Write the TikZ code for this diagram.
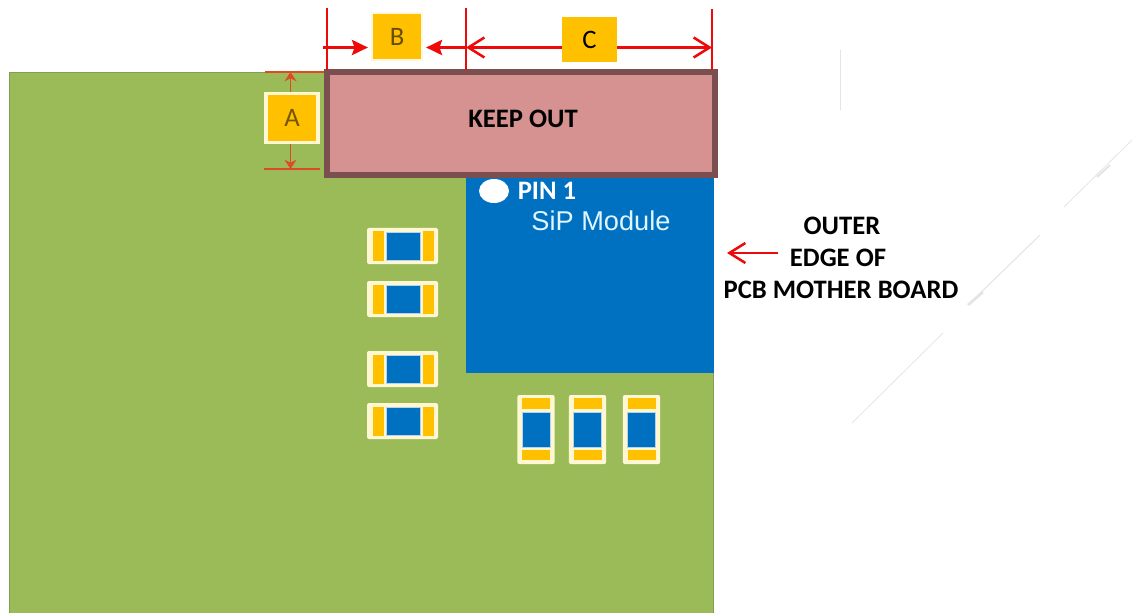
\documentclass[tikz,border=0pt]{standalone}
\usepackage{fontspec}
\setmainfont{Carlito}
\newfontfamily\modfont{Liberation Sans}
\usetikzlibrary{arrows.meta,shapes.geometric}
\definecolor{boardgreen}{HTML}{9BBB59}
\definecolor{boardedge}{HTML}{7F9F55}
\definecolor{keepfill}{HTML}{D69291}
\definecolor{keepedge}{HTML}{7B4E50}
\definecolor{modblue}{HTML}{0070C0}
\definecolor{padyellow}{HTML}{FFC000}
\definecolor{chipedge}{HTML}{FFF6D2}
\definecolor{dimred}{HTML}{EE0A0A}
\definecolor{dimorange}{HTML}{DD4A26}
\definecolor{ghost}{HTML}{E4E4E4}
\tikzset{
	block/.style={shape=rectangle,anchor=north west,inner sep=0pt},
	tag/.style={shape=rectangle,fill=padyellow,inner sep=0pt,font=\fontsize{20}{24}\selectfont},
	caption/.style={font=\fontsize{20}{24}\selectfont\bfseries,inner sep=0pt},
	dimline/.style={draw=dimred,line width=1.7pt},
	openarrow/.style={dimline,-{Straight Barb[length=12pt,width=15pt,line width=1.9pt]}},
	solidarrow/.style={dimline,-{Stealth[length=12pt,width=11.5pt,inset=2pt]}},
	smallarrow/.style={draw=dimorange,line width=1.4pt,-{Stealth[length=7pt,width=9pt]}},
	chipbody/.style={shape=rectangle,fill=chipedge,rounded corners=1.5pt,inner sep=0pt},
	pad/.style={shape=rectangle,fill=padyellow,inner sep=0pt},
	core/.style={shape=rectangle,fill=modblue,draw=white!70!modblue,line width=0.4pt,inner sep=0pt}
}
\begin{document}
\begin{tikzpicture}[x=0.75pt,y=-0.75pt]
	\useasboundingbox (0,0) rectangle (1132,613);

	\node[block,fill=boardgreen,draw=boardedge,line width=1pt,minimum width=528pt,minimum height=405.75pt] (board) at (9,72) {};
	\node[block,fill=modblue,minimum width=186pt,minimum height=146.25pt] (module) at (466,178) {};
	\node[block,fill=keepfill,draw=keepedge,line width=4.5pt,minimum width=291pt,minimum height=77.25pt] (keep) at (324,69.5) {};

	\node[caption] (keeplabel) at (523,118.5) {KEEP OUT};
	\node[shape=ellipse,fill=white,inner sep=0pt,minimum width=22.5pt,minimum height=18pt] (pin) at (494,191) {};
	\node[caption,text=white] (pinlabel) at (547,191) {PIN 1};
	\node[font=\modfont\fontsize{20.4}{24}\selectfont,text=cyan!12!white,inner sep=0pt] (sip) at (601,221) {SiP Module};

	% chips on the left
	\foreach \n/\y in {1/246,2/299,3/369,4/421} {
		\node[chipbody,minimum width=53.25pt,minimum height=27pt] (hchip\n) at (402.5,\y) {};
		\node[pad,minimum width=8.25pt,minimum height=21.75pt] (hpadl\n) at (378.5,\y) {};
		\node[pad,minimum width=8.25pt,minimum height=21.75pt] (hpadr\n) at (428.5,\y) {};
		\node[core,minimum width=25.5pt,minimum height=21pt] (hcore\n) at (403.5,\y) {};
	}
	% chips below the module
	\foreach \n/\x in {1/536,2/587.5,3/641.5} {
		\node[chipbody,minimum width=28pt,minimum height=51.75pt] (vchip\n) at (\x,429.5) {};
		\node[pad,minimum width=21pt,minimum height=8pt] (vpadt\n) at (\x,403.5) {};
		\node[pad,minimum width=21pt,minimum height=8pt] (vpadb\n) at (\x,455) {};
		\node[core,minimum width=21pt,minimum height=26.25pt] (vcore\n) at (\x,429.5) {};
	}

	\node[tag,draw=chipedge,line width=2.5pt,minimum width=39pt,minimum height=36.5pt,text=padyellow!45!black] (tagA) at (292,118) {A};
	\node[tag,draw=padyellow!12!white,line width=1.2pt,minimum width=37.5pt,minimum height=35pt,text=padyellow!40!black] (tagB) at (397,36.5) {B};
	\node[tag,minimum width=41pt,minimum height=34pt,text=black] (tagC) at (589.5,39.5) {C};

	\coordinate (atop) at (290.5,72);
	\coordinate (abot) at (290.5,169);
	\coordinate (tick1) at (327,47.5);
	\coordinate (tick2) at (466,47.5);
	\coordinate (tick3) at (712,47.5);
	\coordinate (btail) at (323,47.5);

	\draw[dimline] (327,8) -- (327,70);
	\draw[dimline] (466,8) -- (466,70);
	\draw[dimline] (712,9) -- (712,70);

	\draw[draw=dimorange,line width=1.3pt] (265,72) -- (324,72);
	\draw[draw=dimorange,line width=1.3pt] (264,169) -- (320,169);
	\draw[smallarrow] (tagA.north -| atop) -- (atop);
	\draw[smallarrow] (tagA.south -| abot) -- (abot);

	\draw[solidarrow,shorten >=2.5pt] (btail) -- (tagB.west |- btail);
	\draw[solidarrow,shorten >=2.5pt] (tick2) -- (tagB.east |- tick2);
	\draw[openarrow] (tagC.west |- tick2) -- (tick2);
	\draw[openarrow] (tagC.east |- tick3) -- (tick3);

	\node[caption] (outer) at (842,226) {OUTER};
	\node[caption] (edge) at (838,258) {EDGE OF};
	\node[caption] (pcb) at (841,290) {PCB MOTHER BOARD};
	\coordinate (edgetip) at (727,253);
	\coordinate (edgetail) at (778,253);
	\draw[openarrow] (edgetail) -- (edgetip);

	% faint marks on the right
	\draw[ghost,line width=0.6pt] (840,50) -- (840,110);
	\draw[ghost,line width=0.6pt] (1132,140) -- (1064,207);
	\draw[ghost,line width=0.8pt] (1040,235) -- (968,305);
	\draw[ghost,line width=2pt] (983,292) -- (968,305);
	\draw[ghost,line width=1.5pt] (1110,165) -- (1097,177);
	\draw[ghost,line width=0.6pt] (943,333) -- (852,423);
\end{tikzpicture}
\end{document}
